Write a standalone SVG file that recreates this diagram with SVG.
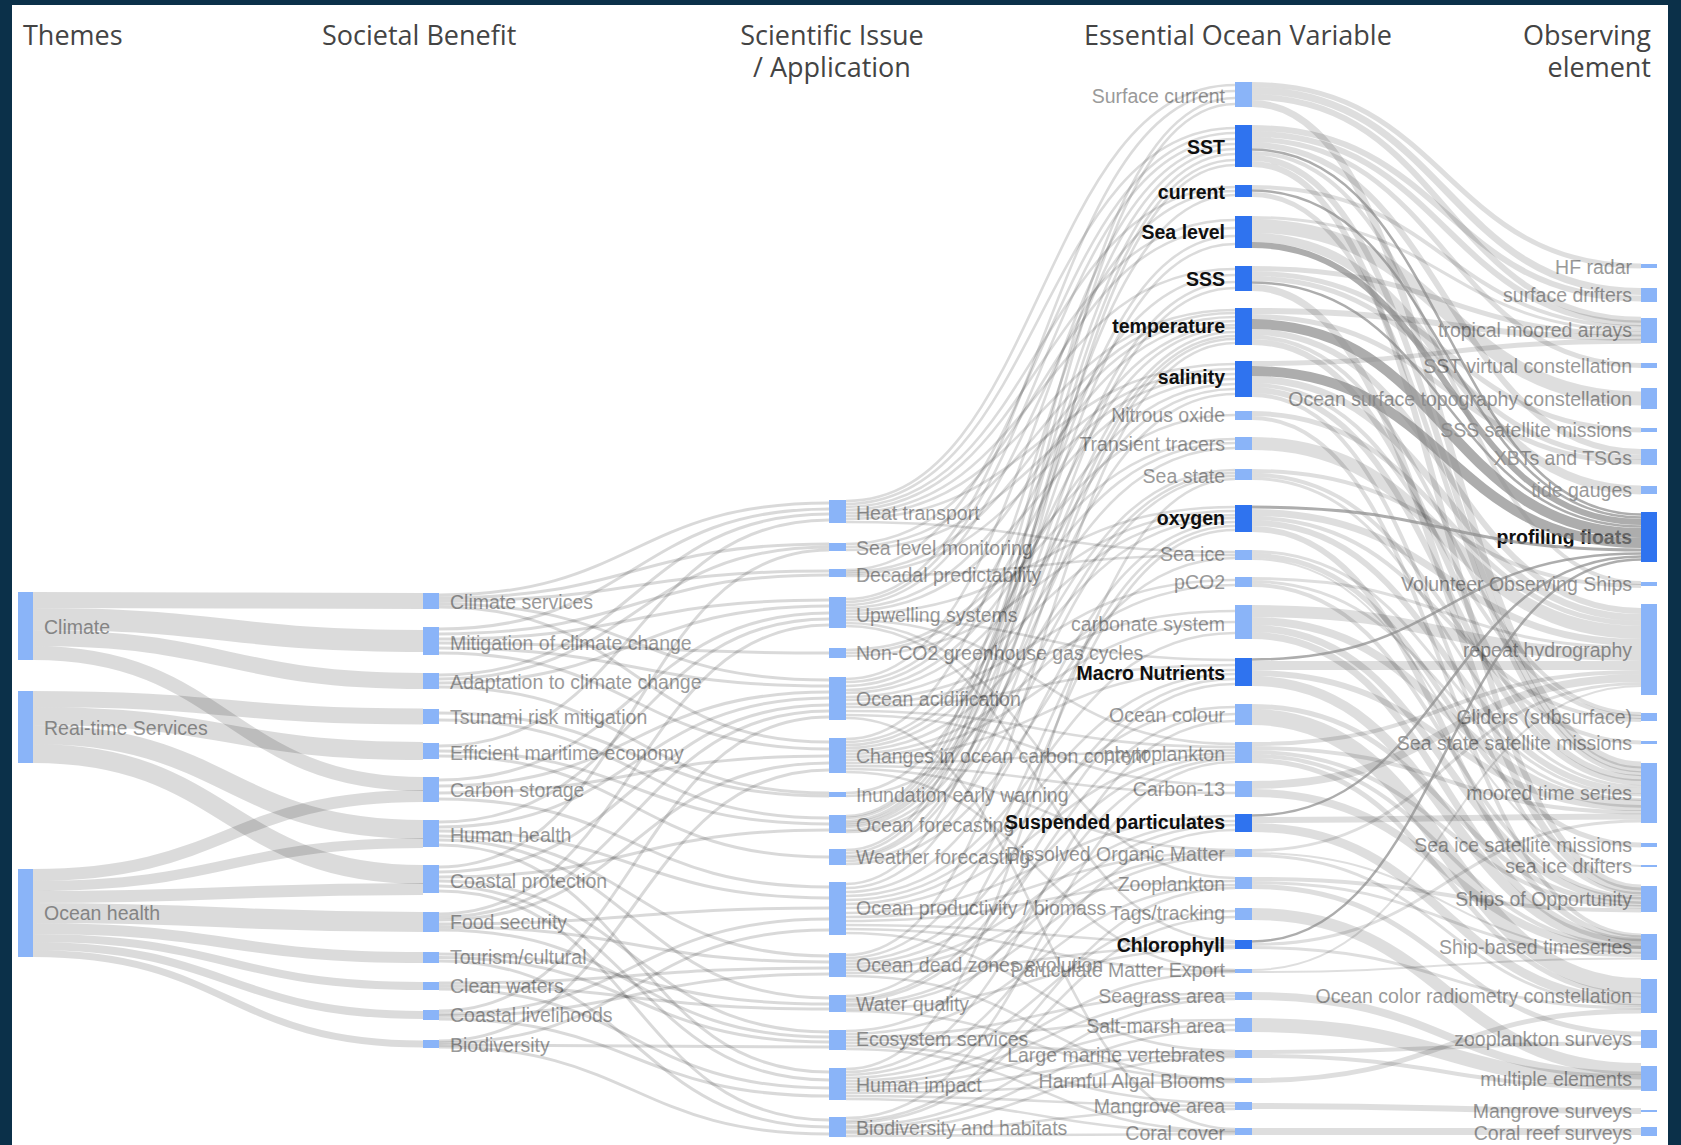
<svg xmlns="http://www.w3.org/2000/svg" width="1681" height="1145" viewBox="0 0 1681 1145">
<style>
.b{fill:#8ab4f8}
.d{fill:#2f73ef}
.t{font-family:"Liberation Sans",Arial,Helvetica,sans-serif;font-size:19.5px;fill:#9a9a9a}
.k{fill:#111;font-weight:bold}
.e{text-anchor:end}
.h{font-family:"Open Sans","Liberation Sans",sans-serif;font-size:27px;fill:#444}
.lk path{fill:none;stroke:#000}
.lt{stroke-opacity:.14}
.ls{stroke-opacity:.15;stroke-width:3}
.lm{stroke-opacity:.14;stroke-width:2.6}
.lo{stroke-opacity:.13}
.ld path{stroke:#8a8a8a;stroke-opacity:.7}
</style>
<rect width="1681" height="1145" fill="#0b3049"/>
<rect x="12" y="5" width="1656" height="1140" fill="#fff"/>
<g id="headers">
<text class="h" x="23" y="45">Themes</text>
<text class="h" x="322" y="45">Societal Benefit</text>
<text class="h" x="832" y="45" text-anchor="middle">Scientific Issue</text>
<text class="h" x="832" y="77" text-anchor="middle">/ Application</text>
<text class="h" x="1084" y="45">Essential Ocean Variable</text>
<text class="h" x="1651" y="45" text-anchor="end">Observing</text>
<text class="h" x="1651" y="77" text-anchor="end">element</text>
</g>
<g id="nodes">
<g id="th-climate"><rect class="b" x="18" y="592" width="15" height="68"/><text class="t" x="44" y="634">Climate</text></g>
<g id="th-realtime"><rect class="b" x="18" y="691" width="15" height="72"/><text class="t" x="44" y="735">Real-time Services</text></g>
<g id="th-oceanhealth"><rect class="b" x="18" y="869" width="15" height="88"/><text class="t" x="44" y="920">Ocean health</text></g>

<g id="sb-climate-services"><rect class="b" x="423" y="593" width="16" height="16"/><text class="t" x="450" y="609">Climate services</text></g>
<g id="sb-mitigation"><rect class="b" x="423" y="627" width="16" height="28"/><text class="t" x="450" y="650">Mitigation of climate change</text></g>
<g id="sb-adaptation"><rect class="b" x="423" y="673" width="16" height="16"/><text class="t" x="450" y="689">Adaptation to climate change</text></g>
<g id="sb-tsunami"><rect class="b" x="423" y="709" width="16" height="15"/><text class="t" x="450" y="724">Tsunami risk mitigation</text></g>
<g id="sb-maritime"><rect class="b" x="423" y="743" width="16" height="16"/><text class="t" x="450" y="760">Efficient maritime economy</text></g>
<g id="sb-carbon-storage"><rect class="b" x="423" y="777" width="16" height="25"/><text class="t" x="450" y="797">Carbon storage</text></g>
<g id="sb-human-health"><rect class="b" x="423" y="820" width="16" height="27"/><text class="t" x="450" y="842">Human health</text></g>
<g id="sb-coastal-protection"><rect class="b" x="423" y="865" width="16" height="28"/><text class="t" x="450" y="888">Coastal protection</text></g>
<g id="sb-food-security"><rect class="b" x="423" y="912" width="16" height="20"/><text class="t" x="450" y="929">Food security</text></g>
<g id="sb-tourism"><rect class="b" x="423" y="952" width="16" height="11"/><text class="t" x="450" y="964">Tourism/cultural</text></g>
<g id="sb-clean-waters"><rect class="b" x="423" y="982" width="16" height="8"/><text class="t" x="450" y="993">Clean waters</text></g>
<g id="sb-coastal-livelihoods"><rect class="b" x="423" y="1010" width="16" height="10"/><text class="t" x="450" y="1022">Coastal livelihoods</text></g>
<g id="sb-biodiversity"><rect class="b" x="423" y="1040" width="16" height="8"/><text class="t" x="450" y="1052">Biodiversity</text></g>

<g id="si-heat"><rect class="b" x="829" y="500" width="17" height="23"/><text class="t" x="856" y="520">Heat transport</text></g>
<g id="si-sealevel"><rect class="b" x="829" y="543" width="17" height="8"/><text class="t" x="856" y="555">Sea level monitoring</text></g>
<g id="si-decadal"><rect class="b" x="829" y="569" width="17" height="8"/><text class="t" x="856" y="582">Decadal predictability</text></g>
<g id="si-upwelling"><rect class="b" x="829" y="597" width="17" height="31"/><text class="t" x="856" y="622">Upwelling systems</text></g>
<g id="si-nonco2"><rect class="b" x="829" y="648" width="17" height="10"/><text class="t" x="856" y="660">Non-CO2 greenhouse gas cycles</text></g>
<g id="si-acidification"><rect class="b" x="829" y="677" width="17" height="43"/><text class="t" x="856" y="706">Ocean acidification</text></g>
<g id="si-carbon-content"><rect class="b" x="829" y="738" width="17" height="35"/><text class="t" x="856" y="763">Changes in ocean carbon content</text></g>
<g id="si-inundation"><rect class="b" x="829" y="792" width="17" height="5"/><text class="t" x="856" y="802">Inundation early warning</text></g>
<g id="si-ocean-forecasting"><rect class="b" x="829" y="815" width="17" height="18"/><text class="t" x="856" y="832">Ocean forecasting</text></g>
<g id="si-weather"><rect class="b" x="829" y="849" width="17" height="16"/><text class="t" x="856" y="864">Weather forecasting</text></g>
<g id="si-productivity"><rect class="b" x="829" y="882" width="17" height="53"/><text class="t" x="856" y="915">Ocean productivity / biomass</text></g>
<g id="si-deadzones"><rect class="b" x="829" y="953" width="17" height="24"/><text class="t" x="856" y="972">Ocean dead zones evolution</text></g>
<g id="si-water-quality"><rect class="b" x="829" y="995" width="17" height="17"/><text class="t" x="856" y="1011">Water quality</text></g>
<g id="si-ecosystem"><rect class="b" x="829" y="1030" width="17" height="20"/><text class="t" x="856" y="1046">Ecosystem services</text></g>
<g id="si-human-impact"><rect class="b" x="829" y="1068" width="17" height="32"/><text class="t" x="856" y="1092">Human impact</text></g>
<g id="si-biodiv-habitats"><rect class="b" x="829" y="1117" width="17" height="20"/><text class="t" x="856" y="1135">Biodiversity and habitats</text></g>

<g id="eov-surface-current"><rect class="b" x="1235" y="82" width="17" height="25"/><text class="t e" x="1225" y="103">Surface current</text></g>
<g id="eov-sst"><rect class="d" x="1235" y="125" width="17" height="42"/><text class="t e k" x="1225" y="154">SST</text></g>
<g id="eov-current"><rect class="d" x="1235" y="185" width="17" height="12"/><text class="t e k" x="1225" y="199">current</text></g>
<g id="eov-sea-level"><rect class="d" x="1235" y="216" width="17" height="32"/><text class="t e k" x="1225" y="239">Sea level</text></g>
<g id="eov-sss"><rect class="d" x="1235" y="266" width="17" height="25"/><text class="t e k" x="1225" y="286">SSS</text></g>
<g id="eov-temperature"><rect class="d" x="1235" y="308" width="17" height="37"/><text class="t e k" x="1225" y="333">temperature</text></g>
<g id="eov-salinity"><rect class="d" x="1235" y="361" width="17" height="36"/><text class="t e k" x="1225" y="384">salinity</text></g>
<g id="eov-nitrous"><rect class="b" x="1235" y="411" width="17" height="9"/><text class="t e" x="1225" y="422">Nitrous oxide</text></g>
<g id="eov-tracers"><rect class="b" x="1235" y="437" width="17" height="13"/><text class="t e" x="1225" y="451">Transient tracers</text></g>
<g id="eov-sea-state"><rect class="b" x="1235" y="469" width="17" height="11"/><text class="t e" x="1225" y="483">Sea state</text></g>
<g id="eov-oxygen"><rect class="d" x="1235" y="505" width="17" height="27"/><text class="t e k" x="1225" y="525">oxygen</text></g>
<g id="eov-sea-ice"><rect class="b" x="1235" y="550" width="17" height="10"/><text class="t e" x="1225" y="561">Sea ice</text></g>
<g id="eov-pco2"><rect class="b" x="1235" y="577" width="17" height="10"/><text class="t e" x="1225" y="589">pCO2</text></g>
<g id="eov-carbonate"><rect class="b" x="1235" y="605" width="17" height="34"/><text class="t e" x="1225" y="631">carbonate system</text></g>
<g id="eov-nutrients"><rect class="d" x="1235" y="658" width="17" height="28"/><text class="t e k" x="1225" y="680">Macro Nutrients</text></g>
<g id="eov-ocean-colour"><rect class="b" x="1235" y="704" width="17" height="21"/><text class="t e" x="1225" y="722">Ocean colour</text></g>
<g id="eov-phytoplankton"><rect class="b" x="1235" y="742" width="17" height="21"/><text class="t e" x="1225" y="761">phytoplankton</text></g>
<g id="eov-carbon13"><rect class="b" x="1235" y="781" width="17" height="16"/><text class="t e" x="1225" y="796">Carbon-13</text></g>
<g id="eov-particulates"><rect class="d" x="1235" y="814" width="17" height="18"/><text class="t e k" x="1225" y="829">Suspended particulates</text></g>
<g id="eov-dom"><rect class="b" x="1235" y="849" width="17" height="8"/><text class="t e" x="1225" y="861">Dissolved Organic Matter</text></g>
<g id="eov-zooplankton"><rect class="b" x="1235" y="877" width="17" height="12"/><text class="t e" x="1225" y="891">Zooplankton</text></g>
<g id="eov-tags"><rect class="b" x="1235" y="908" width="17" height="12"/><text class="t e" x="1225" y="920">Tags/tracking</text></g>
<g id="eov-chlorophyll"><rect class="d" x="1235" y="940" width="17" height="9"/><text class="t e k" x="1225" y="952">Chlorophyll</text></g>
<g id="eov-pme"><rect class="b" x="1235" y="969" width="17" height="4"/><text class="t e" x="1225" y="977">Particulate Matter Export</text></g>
<g id="eov-seagrass"><rect class="b" x="1235" y="992" width="17" height="8"/><text class="t e" x="1225" y="1003">Seagrass area</text></g>
<g id="eov-saltmarsh"><rect class="b" x="1235" y="1018" width="17" height="14"/><text class="t e" x="1225" y="1033">Salt-marsh area</text></g>
<g id="eov-vertebrates"><rect class="b" x="1235" y="1050" width="17" height="8"/><text class="t e" x="1225" y="1062">Large marine vertebrates</text></g>
<g id="eov-hab"><rect class="b" x="1235" y="1078" width="17" height="5"/><text class="t e" x="1225" y="1088">Harmful Algal Blooms</text></g>
<g id="eov-mangrove"><rect class="b" x="1235" y="1102" width="17" height="8"/><text class="t e" x="1225" y="1113">Mangrove area</text></g>
<g id="eov-coral"><rect class="b" x="1235" y="1128" width="17" height="7"/><text class="t e" x="1225" y="1140">Coral cover</text></g>

<g id="oe-hf-radar"><rect class="b" x="1641" y="264" width="16" height="4"/><text class="t e" x="1632" y="274">HF radar</text></g>
<g id="oe-drifters"><rect class="b" x="1641" y="288" width="16" height="14"/><text class="t e" x="1632" y="302">surface drifters</text></g>
<g id="oe-tropical"><rect class="b" x="1641" y="318" width="16" height="25"/><text class="t e" x="1632" y="337">tropical moored arrays</text></g>
<g id="oe-sst-vc"><rect class="b" x="1641" y="363" width="16" height="5"/><text class="t e" x="1632" y="373">SST virtual constellation</text></g>
<g id="oe-ostc"><rect class="b" x="1641" y="388" width="16" height="21"/><text class="t e" x="1632" y="406">Ocean surface topography constellation</text></g>
<g id="oe-sss-sat"><rect class="b" x="1641" y="428" width="16" height="4"/><text class="t e" x="1632" y="437">SSS satellite missions</text></g>
<g id="oe-xbt"><rect class="b" x="1641" y="449" width="16" height="16"/><text class="t e" x="1632" y="465">XBTs and TSGs</text></g>
<g id="oe-tide"><rect class="b" x="1641" y="486" width="16" height="8"/><text class="t e" x="1632" y="497">tide gauges</text></g>
<g id="oe-floats"><rect class="d" x="1641" y="512" width="16" height="50"/><text class="t e k" x="1632" y="544">profiling floats</text></g>
<g id="oe-vos"><rect class="b" x="1641" y="582" width="16" height="4"/><text class="t e" x="1632" y="591">Volunteer Observing Ships</text></g>
<g id="oe-hydrography"><rect class="b" x="1641" y="604" width="16" height="91"/><text class="t e" x="1632" y="657">repeat hydrography</text></g>
<g id="oe-gliders"><rect class="b" x="1641" y="713" width="16" height="8"/><text class="t e" x="1632" y="724">Gliders (subsurface)</text></g>
<g id="oe-seastate-sat"><rect class="b" x="1641" y="741" width="16" height="3"/><text class="t e" x="1632" y="750">Sea state satellite missions</text></g>
<g id="oe-moored"><rect class="b" x="1641" y="763" width="16" height="60"/><text class="t e" x="1632" y="800">moored time series</text></g>
<g id="oe-seaice-sat"><rect class="b" x="1641" y="843" width="16" height="4"/><text class="t e" x="1632" y="852">Sea ice satellite missions</text></g>
<g id="oe-seaice-drifters"><rect class="b" x="1641" y="865" width="16" height="2"/><text class="t e" x="1632" y="873">sea ice drifters</text></g>
<g id="oe-soop"><rect class="b" x="1641" y="886" width="16" height="26"/><text class="t e" x="1632" y="906">Ships of Opportunity</text></g>
<g id="oe-ship-ts"><rect class="b" x="1641" y="934" width="16" height="26"/><text class="t e" x="1632" y="954">Ship-based timeseries</text></g>
<g id="oe-ocean-color"><rect class="b" x="1641" y="979" width="16" height="34"/><text class="t e" x="1632" y="1003">Ocean color radiometry constellation</text></g>
<g id="oe-zoo-surveys"><rect class="b" x="1641" y="1030" width="16" height="18"/><text class="t e" x="1632" y="1046">zooplankton surveys</text></g>
<g id="oe-multiple"><rect class="b" x="1641" y="1066" width="16" height="25"/><text class="t e" x="1632" y="1086">multiple elements</text></g>
<g id="oe-mangrove-surveys"><rect class="b" x="1641" y="1110" width="16" height="2"/><text class="t e" x="1632" y="1118">Mangrove surveys</text></g>
<g id="oe-coral-surveys"><rect class="b" x="1641" y="1127" width="16" height="9"/><text class="t e" x="1632" y="1140">Coral reef surveys</text></g>
</g>

<g id="links" class="lk">
<g class="lt">
<path stroke-width="16" d="M33,600C228,600 228,601 423,601"/>
<path stroke-width="22" d="M33,619C228,619 228,641 423,641"/>
<path stroke-width="16" d="M33,638C228,638 228,681 423,681"/>
<path stroke-width="14" d="M33,653C228,653 228,784 423,784"/>
<path stroke-width="16" d="M33,699C228,699 228,716.5 423,716.5"/>
<path stroke-width="18" d="M33,716C228,716 228,751 423,751"/>
<path stroke-width="19" d="M33,734.5C228,734.5 228,829.5 423,829.5"/>
<path stroke-width="19" d="M33,753.5C228,753.5 228,874.5 423,874.5"/>
<path stroke-width="12" d="M33,875C228,875 228,796 423,796"/>
<path stroke-width="10" d="M33,886C228,886 228,843 423,843"/>
<path stroke-width="12" d="M33,897C228,897 228,889 423,889"/>
<path stroke-width="20" d="M33,913C228,913 228,922 423,922"/>
<path stroke-width="11" d="M33,928.5C228,928.5 228,957.5 423,957.5"/>
<path stroke-width="8" d="M33,938C228,938 228,986 423,986"/>
<path stroke-width="8" d="M33,946C228,946 228,1015 423,1015"/>
<path stroke-width="7" d="M33,953.5C228,953.5 228,1044 423,1044"/>
</g>
<g class="ls">
<path d="M439,595C634,595 634,503 829,503"/>
<path d="M439,598C634,598 634,544 829,544"/>
<path d="M439,601C634,601 634,571 829,571"/>
<path d="M439,604C634,604 634,680 829,680"/>
<path d="M439,607C634,607 634,742 829,742"/>
<path d="M439,629C634,629 634,509 829,509"/>
<path d="M439,634C634,634 634,575 829,575"/>
<path d="M439,639C634,639 634,600 829,600"/>
<path d="M439,643C634,643 634,653 829,653"/>
<path d="M439,648C634,648 634,686 829,686"/>
<path d="M439,653C634,653 634,749 829,749"/>
<path d="M439,675C634,675 634,514 829,514"/>
<path d="M439,679C634,679 634,547 829,547"/>
<path d="M439,683C634,683 634,606 829,606"/>
<path d="M439,687C634,687 634,793 829,793"/>
<path d="M439,713C634,713 634,796 829,796"/>
<path d="M439,720C634,720 634,818 829,818"/>
<path d="M439,746C634,746 634,520 829,520"/>
<path d="M439,751C634,751 634,824 829,824"/>
<path d="M439,756C634,756 634,857 829,857"/>
<path d="M439,780C634,780 634,613 829,613"/>
<path d="M439,786C634,786 634,692 829,692"/>
<path d="M439,793C634,793 634,756 829,756"/>
<path d="M439,799C634,799 634,887 829,887"/>
<path d="M439,822C634,822 634,619 829,619"/>
<path d="M439,827C634,827 634,698 829,698"/>
<path d="M439,831C634,831 634,898 829,898"/>
<path d="M439,836C634,836 634,956 829,956"/>
<path d="M439,840C634,840 634,998 829,998"/>
<path d="M439,845C634,845 634,1072 829,1072"/>
<path d="M439,867C634,867 634,550 829,550"/>
<path d="M439,872C634,872 634,705 829,705"/>
<path d="M439,877C634,877 634,830 829,830"/>
<path d="M439,881C634,881 634,1032 829,1032"/>
<path d="M439,886C634,886 634,1080 829,1080"/>
<path d="M439,891C634,891 634,1120 829,1120"/>
<path d="M439,914C634,914 634,625 829,625"/>
<path d="M439,917C634,917 634,711 829,711"/>
<path d="M439,920C634,920 634,763 829,763"/>
<path d="M439,924C634,924 634,908 829,908"/>
<path d="M439,927C634,927 634,962 829,962"/>
<path d="M439,930C634,930 634,1037 829,1037"/>
<path d="M439,954C634,954 634,1004 829,1004"/>
<path d="M439,957.5C634,957.5 634,1042 829,1042"/>
<path d="M439,961C634,961 634,1127 829,1127"/>
<path d="M439,983C634,983 634,968 829,968"/>
<path d="M439,986C634,986 634,1009 829,1009"/>
<path d="M439,989C634,989 634,1088 829,1088"/>
<path d="M439,1011C634,1011 634,717 829,717"/>
<path d="M439,1014C634,1014 634,919 829,919"/>
<path d="M439,1016C634,1016 634,974 829,974"/>
<path d="M439,1019C634,1019 634,1096 829,1096"/>
<path d="M439,1041C634,1041 634,770 829,770"/>
<path d="M439,1043C634,1043 634,930 829,930"/>
<path d="M439,1045C634,1045 634,1047 829,1047"/>
<path d="M439,1047C634,1047 634,1134 829,1134"/>
</g>
<g class="lm">
<path d="M846,501C1040,501 1040,85 1235,85"/>
<path d="M846,504C1040,504 1040,128 1235,128"/>
<path d="M846,507C1040,507 1040,187 1235,187"/>
<path d="M846,510C1040,510 1040,220 1235,220"/>
<path d="M846,513C1040,513 1040,269 1235,269"/>
<path d="M846,516C1040,516 1040,310 1235,310"/>
<path d="M846,519C1040,519 1040,364 1235,364"/>
<path d="M846,522C1040,522 1040,552 1235,552"/>
<path d="M846,544C1040,544 1040,228 1235,228"/>
<path d="M846,547C1040,547 1040,313 1235,313"/>
<path d="M846,550C1040,550 1040,369 1235,369"/>
<path d="M846,570C1040,570 1040,133 1235,133"/>
<path d="M846,572C1040,572 1040,317 1235,317"/>
<path d="M846,574C1040,574 1040,374 1235,374"/>
<path d="M846,576C1040,576 1040,555 1235,555"/>
<path d="M846,599C1040,599 1040,91 1235,91"/>
<path d="M846,602C1040,602 1040,139 1235,139"/>
<path d="M846,605C1040,605 1040,191 1235,191"/>
<path d="M846,608C1040,608 1040,321 1235,321"/>
<path d="M846,611C1040,611 1040,379 1235,379"/>
<path d="M846,614C1040,614 1040,507 1235,507"/>
<path d="M846,617C1040,617 1040,660 1235,660"/>
<path d="M846,620C1040,620 1040,744 1235,744"/>
<path d="M846,623C1040,623 1040,878 1235,878"/>
<path d="M846,626C1040,626 1040,941 1235,941"/>
<path d="M846,650C1040,650 1040,415 1235,415"/>
<path d="M846,653C1040,653 1040,439 1235,439"/>
<path d="M846,656C1040,656 1040,511 1235,511"/>
<path d="M846,679C1040,679 1040,144 1235,144"/>
<path d="M846,682C1040,682 1040,275 1235,275"/>
<path d="M846,686C1040,686 1040,325 1235,325"/>
<path d="M846,690C1040,690 1040,384 1235,384"/>
<path d="M846,693C1040,693 1040,443 1235,443"/>
<path d="M846,697C1040,697 1040,515 1235,515"/>
<path d="M846,700C1040,700 1040,580 1235,580"/>
<path d="M846,704C1040,704 1040,611 1235,611"/>
<path d="M846,707C1040,707 1040,665 1235,665"/>
<path d="M846,711C1040,711 1040,747 1235,747"/>
<path d="M846,715C1040,715 1040,785 1235,785"/>
<path d="M846,718C1040,718 1040,1129 1235,1129"/>
<path d="M846,739C1040,739 1040,149 1235,149"/>
<path d="M846,742C1040,742 1040,328 1235,328"/>
<path d="M846,745C1040,745 1040,389 1235,389"/>
<path d="M846,748C1040,748 1040,448 1235,448"/>
<path d="M846,751C1040,751 1040,518 1235,518"/>
<path d="M846,754C1040,754 1040,585 1235,585"/>
<path d="M846,757C1040,757 1040,622 1235,622"/>
<path d="M846,760C1040,760 1040,670 1235,670"/>
<path d="M846,763C1040,763 1040,750 1235,750"/>
<path d="M846,766C1040,766 1040,793 1235,793"/>
<path d="M846,769C1040,769 1040,850 1235,850"/>
<path d="M846,772C1040,772 1040,970 1235,970"/>
<path d="M846,793C1040,793 1040,236 1235,236"/>
<path d="M846,796C1040,796 1040,470 1235,470"/>
<path d="M846,816C1040,816 1040,98 1235,98"/>
<path d="M846,818C1040,818 1040,154 1235,154"/>
<path d="M846,821C1040,821 1040,195 1235,195"/>
<path d="M846,823C1040,823 1040,244 1235,244"/>
<path d="M846,825C1040,825 1040,282 1235,282"/>
<path d="M846,827C1040,827 1040,332 1235,332"/>
<path d="M846,830C1040,830 1040,394 1235,394"/>
<path d="M846,832C1040,832 1040,473 1235,473"/>
<path d="M846,850C1040,850 1040,104 1235,104"/>
<path d="M846,853C1040,853 1040,160 1235,160"/>
<path d="M846,856C1040,856 1040,288 1235,288"/>
<path d="M846,858C1040,858 1040,336 1235,336"/>
<path d="M846,861C1040,861 1040,476 1235,476"/>
<path d="M846,864C1040,864 1040,558 1235,558"/>
<path d="M846,884C1040,884 1040,165 1235,165"/>
<path d="M846,888C1040,888 1040,339 1235,339"/>
<path d="M846,892C1040,892 1040,522 1235,522"/>
<path d="M846,896C1040,896 1040,633 1235,633"/>
<path d="M846,900C1040,900 1040,674 1235,674"/>
<path d="M846,904C1040,904 1040,707 1235,707"/>
<path d="M846,908C1040,908 1040,753 1235,753"/>
<path d="M846,913C1040,913 1040,816 1235,816"/>
<path d="M846,917C1040,917 1040,852 1235,852"/>
<path d="M846,921C1040,921 1040,881 1235,881"/>
<path d="M846,925C1040,925 1040,943 1235,943"/>
<path d="M846,929C1040,929 1040,971 1235,971"/>
<path d="M846,933C1040,933 1040,1051 1235,1051"/>
<path d="M846,955C1040,955 1040,343 1235,343"/>
<path d="M846,958C1040,958 1040,526 1235,526"/>
<path d="M846,961C1040,961 1040,679 1235,679"/>
<path d="M846,964C1040,964 1040,756 1235,756"/>
<path d="M846,967C1040,967 1040,821 1235,821"/>
<path d="M846,970C1040,970 1040,854 1235,854"/>
<path d="M846,973C1040,973 1040,946 1235,946"/>
<path d="M846,976C1040,976 1040,1079 1235,1079"/>
<path d="M846,996C1040,996 1040,530 1235,530"/>
<path d="M846,999C1040,999 1040,684 1235,684"/>
<path d="M846,1001C1040,1001 1040,714 1235,714"/>
<path d="M846,1004C1040,1004 1040,825 1235,825"/>
<path d="M846,1006C1040,1006 1040,856 1235,856"/>
<path d="M846,1009C1040,1009 1040,948 1235,948"/>
<path d="M846,1011C1040,1011 1040,1080 1235,1080"/>
<path d="M846,1031C1040,1031 1040,759 1235,759"/>
<path d="M846,1034C1040,1034 1040,885 1235,885"/>
<path d="M846,1037C1040,1037 1040,993 1235,993"/>
<path d="M846,1040C1040,1040 1040,1020 1235,1020"/>
<path d="M846,1043C1040,1043 1040,1053 1235,1053"/>
<path d="M846,1046C1040,1046 1040,1103 1235,1103"/>
<path d="M846,1049C1040,1049 1040,1131 1235,1131"/>
<path d="M846,1069C1040,1069 1040,479 1235,479"/>
<path d="M846,1072C1040,1072 1040,721 1235,721"/>
<path d="M846,1075C1040,1075 1040,830 1235,830"/>
<path d="M846,1078C1040,1078 1040,911 1235,911"/>
<path d="M846,1081C1040,1081 1040,972 1235,972"/>
<path d="M846,1084C1040,1084 1040,996 1235,996"/>
<path d="M846,1087C1040,1087 1040,1025 1235,1025"/>
<path d="M846,1090C1040,1090 1040,1055 1235,1055"/>
<path d="M846,1093C1040,1093 1040,1082 1235,1082"/>
<path d="M846,1096C1040,1096 1040,1106 1235,1106"/>
<path d="M846,1099C1040,1099 1040,1132 1235,1132"/>
<path d="M846,1118C1040,1118 1040,762 1235,762"/>
<path d="M846,1121C1040,1121 1040,888 1235,888"/>
<path d="M846,1123C1040,1123 1040,917 1235,917"/>
<path d="M846,1126C1040,1126 1040,999 1235,999"/>
<path d="M846,1128C1040,1128 1040,1030 1235,1030"/>
<path d="M846,1131C1040,1131 1040,1057 1235,1057"/>
<path d="M846,1133C1040,1133 1040,1109 1235,1109"/>
<path d="M846,1136C1040,1136 1040,1134 1235,1134"/>
</g>
<g class="lo">
<path stroke-width="5" d="M1252,84.5C1446,84.5 1446,266 1641,266"/>
<path stroke-width="7" d="M1252,90.5C1446,90.5 1446,291.5 1641,291.5"/>
<path stroke-width="6" d="M1252,97C1446,97 1446,319.8 1641,319.8"/>
<path stroke-width="7" d="M1252,103.5C1446,103.5 1446,765 1641,765"/>
<path stroke-width="6" d="M1252,128C1446,128 1446,298.5 1641,298.5"/>
<path stroke-width="6" d="M1252,134C1446,134 1446,323.4 1641,323.4"/>
<path stroke-width="5" d="M1252,139.5C1446,139.5 1446,365.5 1641,365.5"/>
<path stroke-width="6" d="M1252,145C1446,145 1446,452 1641,452"/>
<path stroke-width="4" d="M1252,153C1446,153 1446,583 1641,583"/>
<path stroke-width="6" d="M1252,158C1446,158 1446,769.4 1641,769.4"/>
<path stroke-width="6" d="M1252,164C1446,164 1446,887.6 1641,887.6"/>
<path stroke-width="4" d="M1252,187C1446,187 1446,326.9 1641,326.9"/>
<path stroke-width="5" d="M1252,194.5C1446,194.5 1446,773.7 1641,773.7"/>
<path stroke-width="3" d="M1252,217.5C1446,217.5 1446,330.5 1641,330.5"/>
<path stroke-width="14" d="M1252,226C1446,226 1446,398.5 1641,398.5"/>
<path stroke-width="9" d="M1252,237.5C1446,237.5 1446,490 1641,490"/>
<path stroke-width="5" d="M1252,268.5C1446,268.5 1446,334.1 1641,334.1"/>
<path stroke-width="5" d="M1252,273.5C1446,273.5 1446,430 1641,430"/>
<path stroke-width="5" d="M1252,278.5C1446,278.5 1446,457.5 1641,457.5"/>
<path stroke-width="7" d="M1252,287.5C1446,287.5 1446,890.9 1641,890.9"/>
<path stroke-width="6" d="M1252,311C1446,311 1446,337.6 1641,337.6"/>
<path stroke-width="5" d="M1252,316.5C1446,316.5 1446,462 1641,462"/>
<path stroke-width="6" d="M1252,332C1446,332 1446,611 1641,611"/>
<path stroke-width="4" d="M1252,337C1446,337 1446,714 1641,714"/>
<path stroke-width="6" d="M1252,342C1446,342 1446,778 1641,778"/>
<path stroke-width="5" d="M1252,363.5C1446,363.5 1446,341.2 1641,341.2"/>
<path stroke-width="7" d="M1252,379.5C1446,379.5 1446,617.5 1641,617.5"/>
<path stroke-width="4" d="M1252,385C1446,385 1446,717 1641,717"/>
<path stroke-width="6" d="M1252,390C1446,390 1446,782.3 1641,782.3"/>
<path stroke-width="4" d="M1252,395C1446,395 1446,894.1 1641,894.1"/>
<path stroke-width="5" d="M1252,413.5C1446,413.5 1446,623.5 1641,623.5"/>
<path stroke-width="4" d="M1252,418C1446,418 1446,935.4 1641,935.4"/>
<path stroke-width="13" d="M1252,443.5C1446,443.5 1446,632.5 1641,632.5"/>
<path stroke-width="4" d="M1252,471C1446,471 1446,586 1641,586"/>
<path stroke-width="4" d="M1252,475C1446,475 1446,742.5 1641,742.5"/>
<path stroke-width="3" d="M1252,478.5C1446,478.5 1446,786.6 1641,786.6"/>
<path stroke-width="7" d="M1252,512.5C1446,512.5 1446,642.5 1641,642.5"/>
<path stroke-width="4" d="M1252,518C1446,518 1446,720 1641,720"/>
<path stroke-width="6" d="M1252,523C1446,523 1446,790.9 1641,790.9"/>
<path stroke-width="6" d="M1252,529C1446,529 1446,938.3 1641,938.3"/>
<path stroke-width="3" d="M1252,551.5C1446,551.5 1446,795.1 1641,795.1"/>
<path stroke-width="5" d="M1252,555.5C1446,555.5 1446,845 1641,845"/>
<path stroke-width="2" d="M1252,559C1446,559 1446,866 1641,866"/>
<path stroke-width="3" d="M1252,578.5C1446,578.5 1446,647.5 1641,647.5"/>
<path stroke-width="3" d="M1252,581.5C1446,581.5 1446,799.4 1641,799.4"/>
<path stroke-width="4" d="M1252,585C1446,585 1446,897.4 1641,897.4"/>
<path stroke-width="12" d="M1252,611C1446,611 1446,655 1641,655"/>
<path stroke-width="8" d="M1252,621C1446,621 1446,803.7 1641,803.7"/>
<path stroke-width="7" d="M1252,628.5C1446,628.5 1446,900.6 1641,900.6"/>
<path stroke-width="7" d="M1252,635.5C1446,635.5 1446,941.2 1641,941.2"/>
<path stroke-width="9" d="M1252,665.5C1446,665.5 1446,665.5 1641,665.5"/>
<path stroke-width="6" d="M1252,673C1446,673 1446,808 1641,808"/>
<path stroke-width="10" d="M1252,681C1446,681 1446,944.1 1641,944.1"/>
<path stroke-width="5" d="M1252,706.5C1446,706.5 1446,903.9 1641,903.9"/>
<path stroke-width="16" d="M1252,717C1446,717 1446,986 1641,986"/>
<path stroke-width="4" d="M1252,744C1446,744 1446,672 1641,672"/>
<path stroke-width="4" d="M1252,748C1446,748 1446,812.3 1641,812.3"/>
<path stroke-width="4" d="M1252,752C1446,752 1446,907.1 1641,907.1"/>
<path stroke-width="4" d="M1252,756C1446,756 1446,947 1641,947"/>
<path stroke-width="5" d="M1252,760.5C1446,760.5 1446,995 1641,995"/>
<path stroke-width="8" d="M1252,785C1446,785 1446,678 1641,678"/>
<path stroke-width="8" d="M1252,793C1446,793 1446,949.9 1641,949.9"/>
<path stroke-width="6" d="M1252,820C1446,820 1446,816.6 1641,816.6"/>
<path stroke-width="9" d="M1252,827.5C1446,827.5 1446,1001 1641,1001"/>
<path stroke-width="3" d="M1252,850.5C1446,850.5 1446,683.5 1641,683.5"/>
<path stroke-width="2" d="M1252,853C1446,853 1446,952.8 1641,952.8"/>
<path stroke-width="3" d="M1252,855.5C1446,855.5 1446,1005.5 1641,1005.5"/>
<path stroke-width="4" d="M1252,879C1446,879 1446,910.4 1641,910.4"/>
<path stroke-width="3" d="M1252,882.5C1446,882.5 1446,955.7 1641,955.7"/>
<path stroke-width="5" d="M1252,886.5C1446,886.5 1446,1034 1641,1034"/>
<path stroke-width="12" d="M1252,914C1446,914 1446,1069.1 1641,1069.1"/>
<path stroke-width="3" d="M1252,944.5C1446,944.5 1446,820.9 1641,820.9"/>
<path stroke-width="3" d="M1252,947.5C1446,947.5 1446,1008 1641,1008"/>
<path stroke-width="2" d="M1252,970C1446,970 1446,686 1641,686"/>
<path stroke-width="2" d="M1252,972C1446,972 1446,958.6 1641,958.6"/>
<path stroke-width="8" d="M1252,996C1446,996 1446,1075.4 1641,1075.4"/>
<path stroke-width="14" d="M1252,1025C1446,1025 1446,1081.6 1641,1081.6"/>
<path stroke-width="4" d="M1252,1052C1446,1052 1446,1043 1641,1043"/>
<path stroke-width="4" d="M1252,1056C1446,1056 1446,1087.9 1641,1087.9"/>
<path stroke-width="5" d="M1252,1080.5C1446,1080.5 1446,1011 1641,1011"/>
<path stroke-width="6" d="M1252,1106C1446,1106 1446,1111 1641,1111"/>
<path stroke-width="7" d="M1252,1131.5C1446,1131.5 1446,1131.5 1641,1131.5"/>
</g>
<g class="ld">
<path stroke-width="2.5" d="M1252,149.5C1446,149.5 1446,514.5 1641,514.5"/>
<path stroke-width="2.5" d="M1252,190.5C1446,190.5 1446,517.5 1641,517.5"/>
<path stroke-width="6" d="M1252,245C1446,245 1446,522 1641,522"/>
<path stroke-width="2.5" d="M1252,282.5C1446,282.5 1446,526.5 1641,526.5"/>
<path stroke-width="10" d="M1252,324C1446,324 1446,533 1641,533"/>
<path stroke-width="10" d="M1252,371C1446,371 1446,543 1641,543"/>
<path stroke-width="3" d="M1252,507C1446,507 1446,550 1641,550"/>
<path stroke-width="2.5" d="M1252,659.5C1446,659.5 1446,553.5 1641,553.5"/>
<path stroke-width="2.5" d="M1252,815.5C1446,815.5 1446,556.5 1641,556.5"/>
<path stroke-width="2.5" d="M1252,941.5C1446,941.5 1446,559.5 1641,559.5"/>
</g>
</g>
</svg>
